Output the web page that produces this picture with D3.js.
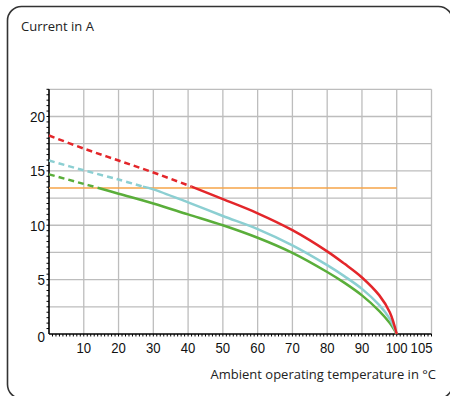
<!DOCTYPE html>
<html><head><meta charset="utf-8">
<script src="https://cdn.jsdelivr.net/npm/d3@7"></script>
<style>
html,body{margin:0;padding:0;background:#fff;}
svg{display:block;}
</style></head>
<body>
<svg id="chart" width="450" height="396"></svg>
<script>
// ---- data ----
const xTicks = [10,20,30,40,50,60,70,80,90,100,110];
const xTickLabels = ["10","20","30","40","50","60","70","80","90","100","105"];
const yTicks = [0,5,10,15,20];
const yTickLabels = ["0","5","10","15","20"];
const yGrid = [2.5,5,7.5,10,12.5,15,17.5,20,22.5];

const limitX = [0,100];
const limitY = [13.42,13.42];

const redDashX = [0,10,20,30,41];
const redDashY = [18.25,17.05,15.95,14.85,13.55];
const redX = [41,50,60,70,80,85,90,95,98,100];
const redY = [13.55,12.4,11.1,9.55,7.6,6.45,5.2,3.55,2.0,0];

const cyanDashX = [0,10,20,27];
const cyanDashY = [15.95,15.05,14.2,13.55];
const cyanX = [27,30,40,50,60,70,80,85,90,95,98,100];
const cyanY = [13.55,13.3,12.1,10.85,9.65,8.15,6.33,5.3,4.15,2.65,1.4,0];

const greenDashX = [0,10,14];
const greenDashY = [14.68,13.8,13.45];
const greenX = [14,20,30,40,50,60,70,80,85,90,95,98,100];
const greenY = [13.45,12.9,12.0,11.0,10.0,8.85,7.46,5.7,4.7,3.55,2.1,1.0,0];

// ---- layout ----
const svg = d3.select("#chart");
const x = d3.scaleLinear().domain([0,110]).range([49,431.5]);
const y = d3.scaleLinear().domain([0,22.5]).range([334,89.3]);

// frame
svg.append("rect").attr("x",7.5).attr("y",6.5).attr("width",445).attr("height",392)
  .attr("rx",14).attr("ry",14).attr("fill","none").attr("stroke","#333").attr("stroke-width",1.6);

svg.append("text").attr("x",21).attr("y",31).text("Current in A")
  .attr("font-family","'Open Sans', sans-serif").attr("font-size",13).attr("fill","#222");

// grid
const grid = svg.append("g").attr("stroke","#bdbdbd").attr("stroke-width",1.3);
grid.selectAll(".vx").data(xTicks).join("line")
  .attr("x1",d=>x(d)).attr("x2",d=>x(d)).attr("y1",y(0)).attr("y2",y(22.5));
grid.selectAll(".hy").data(yGrid).join("line")
  .attr("x1",x(0)).attr("x2",x(110)).attr("y1",d=>y(d)).attr("y2",d=>y(d));

// axes minor ticks
const minorX = d3.range(1,111,1);
svg.append("g").attr("stroke","#000").attr("stroke-width",1)
  .selectAll("line").data(minorX).join("line")
  .attr("x1",d=>x(d)).attr("x2",d=>x(d)).attr("y1",y(0)).attr("y2",y(0)+2.5);
const minorY = d3.range(0.5,22.6,0.5);
svg.append("g").attr("stroke","#000").attr("stroke-width",1)
  .selectAll("line").data(minorY).join("line")
  .attr("x1",x(0)-2.5).attr("x2",x(0)).attr("y1",d=>y(d)).attr("y2",d=>y(d));

// axis lines
svg.append("line").attr("x1",x(0)).attr("x2",x(0)).attr("y1",y(0)).attr("y2",y(22.5))
  .attr("stroke","#000").attr("stroke-width",1.6);
svg.append("line").attr("x1",x(0)).attr("x2",x(110)).attr("y1",y(0)).attr("y2",y(0))
  .attr("stroke","#000").attr("stroke-width",1.6);

// tick labels
const tf = "'Liberation Sans', Arial, sans-serif";
svg.append("g").selectAll("text").data(xTicks).join("text")
  .attr("x",(d,i)=> i===xTicks.length-1 ? x(d)+1 : x(d))
  .attr("y",353)
  .attr("text-anchor",(d,i)=> i===xTicks.length-1 ? "end" : "middle")
  .attr("font-family",tf).attr("font-size",15).attr("fill","#111")
  .attr("textLength",(d,i)=> xTickLabels[i].length*7.3)
  .attr("lengthAdjust","spacingAndGlyphs")
  .text((d,i)=>xTickLabels[i]);
svg.append("g").selectAll("text").data(yTicks).join("text")
  .attr("x",45).attr("y",d=> d===0 ? y(d)+8 : y(d)+5.5)
  .attr("text-anchor","end")
  .attr("font-family",tf).attr("font-size",15).attr("fill","#111")
  .attr("textLength",(d,i)=> yTickLabels[i].length*7.5)
  .attr("lengthAdjust","spacingAndGlyphs")
  .text((d,i)=>yTickLabels[i]);

svg.append("text").attr("x",436).attr("y",379).attr("text-anchor","end")
  .attr("font-family","'Open Sans', sans-serif").attr("font-size",13).attr("fill","#222")
  .text("Ambient operating temperature in  °C");

// curves
const line = d3.line().x(d=>x(d[0])).y(d=>y(d[1])).curve(d3.curveCatmullRom.alpha(0.5));
const zip = (a,b)=>a.map((v,i)=>[v,b[i]]);

svg.append("path").datum(zip(limitX,limitY)).attr("d",line)
  .attr("fill","none").attr("stroke","#f6a549").attr("stroke-width",1.6);

const series = [
  {dx:greenDashX, dy:greenDashY, sx:greenX, sy:greenY, c:"#5aae3a"},
  {dx:cyanDashX, dy:cyanDashY, sx:cyanX, sy:cyanY, c:"#8ccfd2"},
  {dx:redDashX, dy:redDashY, sx:redX, sy:redY, c:"#e3262a"}
];
series.forEach(s=>{
  svg.append("path").datum(zip(s.dx,s.dy)).attr("d",line)
    .attr("fill","none").attr("stroke",s.c).attr("stroke-width",2.5).attr("stroke-dasharray","6,4");
  svg.append("path").datum(zip(s.sx,s.sy)).attr("d",line)
    .attr("fill","none").attr("stroke",s.c).attr("stroke-width",2.5);
});
</script>
</body></html>
